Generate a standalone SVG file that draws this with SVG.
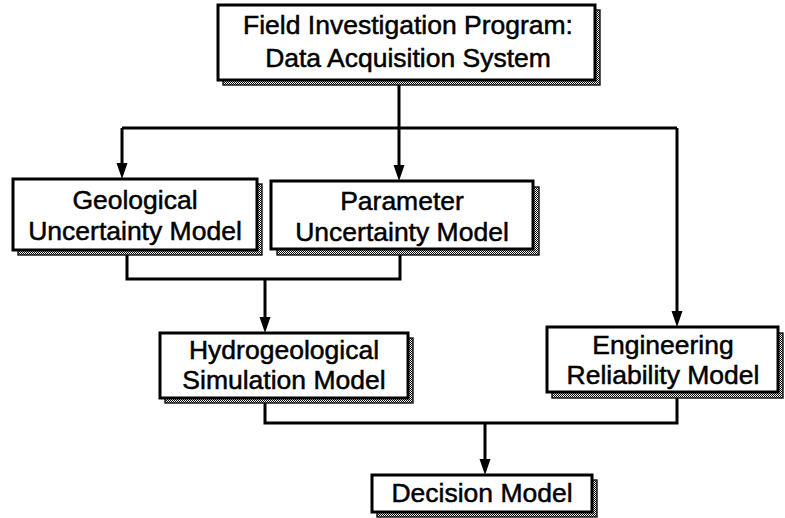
<svg xmlns="http://www.w3.org/2000/svg" width="785" height="518" viewBox="0 0 785 518">
<style>
.box{fill:#fff;stroke:#000;stroke-width:3}
.sh{fill:url(#dots);stroke:#111;stroke-width:1.4}
.t{font-family:"Liberation Sans",Arial,sans-serif;font-size:26.5px;fill:#000;stroke:#000;stroke-width:0.5;text-anchor:middle}
.c{fill:none;stroke:#000;stroke-width:3}
.a{marker-end:url(#ah)}
</style>
<defs>
<pattern id="dots" width="2" height="2" patternUnits="userSpaceOnUse">
<rect width="2" height="2" fill="#fff"/>
<rect width="1" height="1" fill="#000"/>
<rect x="1" y="1" width="1" height="1" fill="#000"/>
</pattern>
<marker id="ah" markerUnits="userSpaceOnUse" markerWidth="18" markerHeight="12" refX="10" refY="5.5" orient="auto" viewBox="0 0 18 12">
<path d="M0,0 L16,5.5 L0,11 z" fill="#000"/>
</marker>
</defs>
<g id="connectors">
<path class="c" d="M399,80 V128"/>
<path class="c" d="M122,128 H677"/>
<path class="c a" d="M122,128 V173"/>
<path class="c a" d="M399,128 V175"/>
<path class="c a" d="M677,128 V321"/>
<path class="c" d="M127,250 V279 H400 V249"/>
<path class="c a" d="M265,279 V327"/>
<path class="c" d="M265,398 V423 H677 V392"/>
<path class="c a" d="M485,423 V469"/>
</g>
<g id="field">
<rect class="sh" x="223" y="10" width="377" height="75"/>
<rect class="box" x="218" y="5" width="377" height="75"/>
<text class="t" x="408" y="34">Field Investigation Program:</text>
<text class="t" x="408" y="67">Data Acquisition System</text>
</g>
<g id="geological">
<rect class="sh" x="18" y="184" width="244" height="71"/>
<rect class="box" x="13" y="179" width="244" height="71"/>
<text class="t" x="135" y="209">Geological</text>
<text class="t" x="135" y="240">Uncertainty Model</text>
</g>
<g id="parameter">
<rect class="sh" x="277" y="187" width="262" height="68"/>
<rect class="box" x="271" y="181" width="262" height="68"/>
<text class="t" x="402" y="210">Parameter</text>
<text class="t" x="402" y="241">Uncertainty Model</text>
</g>
<g id="hydro">
<rect class="sh" x="165" y="338" width="248" height="65"/>
<rect class="box" x="160" y="333" width="248" height="65"/>
<text class="t" x="284" y="359">Hydrogeological</text>
<text class="t" x="284" y="389">Simulation Model</text>
</g>
<g id="engineering">
<rect class="sh" x="552" y="333" width="231" height="65"/>
<rect class="box" x="547" y="327" width="231" height="65"/>
<text class="t" x="663" y="354">Engineering</text>
<text class="t" x="663" y="384">Reliability Model</text>
</g>
<g id="decision">
<rect class="sh" x="377" y="480" width="220" height="37"/>
<rect class="box" x="372" y="475" width="220" height="37"/>
<text class="t" x="482" y="502">Decision Model</text>
</g>
</svg>
